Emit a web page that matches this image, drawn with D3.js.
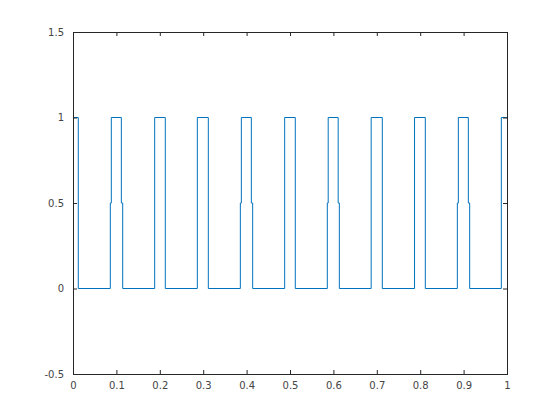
<!DOCTYPE html>
<html>
<head>
<meta charset="utf-8">
<script src="https://cdn.jsdelivr.net/npm/d3@7"></script>
<style>
  body { margin: 0; background: #fff; }
  svg { display: block; }
</style>
</head>
<body>
<div id="chart"></div>
<script>
// step breakpoints (t) and the value held from each one onward (stairs style)
const stepT = [0, 0.0122, 0.086, 0.0883, 0.1114, 0.1145, 0.1882, 0.2127, 0.2865, 0.3118,
  0.3856, 0.3879, 0.4109, 0.414, 0.4877, 0.5122, 0.586, 0.588, 0.611, 0.6137,
  0.687, 0.7127, 0.787, 0.8118, 0.8856, 0.8879, 0.9109, 0.914, 0.9869, 1];
const stepY = [1, 0, 0.5, 1, 0.5, 0, 1, 0, 1, 0,
  0.5, 1, 0.5, 0, 1, 0, 0.5, 1, 0.5, 0,
  1, 0, 1, 0, 0.5, 1, 0.5, 0, 1, 1];

const xTicks = [0, 0.1, 0.2, 0.3, 0.4, 0.5, 0.6, 0.7, 0.8, 0.9, 1];
const yTicks = [-0.5, 0, 0.5, 1, 1.5];

const width = 560, height = 420;
const margin = { top: 32, right: 53, bottom: 46, left: 73 };
const innerW = width - margin.left - margin.right;
const innerH = height - margin.top - margin.bottom;
const axisColor = '#262626';
const textColor = '#444';
const tickLen = 4;

const svg = d3.select('#chart').append('svg')
  .attr('width', width)
  .attr('height', height);

const g = svg.append('g').attr('transform', `translate(${margin.left},${margin.top})`);

const x = d3.scaleLinear().domain([0, 1]).range([0, innerW]);
const y = d3.scaleLinear().domain([-0.5, 1.5]).range([innerH, 0]);

const data = stepT.map((t, i) => ({ t, v: stepY[i] }));

const line = d3.line()
  .x((d) => x(d.t))
  .y((d) => y(d.v))
  .curve(d3.curveStepAfter);

g.append('path')
  .datum(data)
  .attr('fill', 'none')
  .attr('stroke', '#0072BD')
  .attr('stroke-width', 1)
  .attr('d', line);

const fmt = (d) => String(d);

const styleAxis = (sel, hideText) => {
  sel.select('.domain').remove();
  sel.selectAll('.tick line').attr('stroke', axisColor);
  if (hideText) sel.selectAll('.tick text').remove();
};

// bottom / top
g.append('g')
  .attr('transform', `translate(0,${innerH})`)
  .call(d3.axisBottom(x).tickValues(xTicks).tickFormat(fmt).tickSizeInner(-tickLen).tickSizeOuter(0).tickPadding(8))
  .call((s) => styleAxis(s, false));
g.append('g')
  .call(d3.axisTop(x).tickValues(xTicks).tickSizeInner(-tickLen).tickSizeOuter(0))
  .call((s) => styleAxis(s, true));

// left / right
g.append('g')
  .call(d3.axisLeft(y).tickValues(yTicks).tickFormat(fmt).tickSizeInner(-tickLen).tickSizeOuter(0).tickPadding(9))
  .call((s) => styleAxis(s, false));
g.append('g')
  .attr('transform', `translate(${innerW},0)`)
  .call(d3.axisRight(y).tickValues(yTicks).tickSizeInner(-tickLen).tickSizeOuter(0))
  .call((s) => styleAxis(s, true));

// box
g.append('rect')
  .attr('x', 0.5).attr('y', 0.5)
  .attr('width', innerW).attr('height', innerH)
  .attr('fill', 'none')
  .attr('stroke', axisColor)
  .attr('stroke-width', 1);

g.selectAll('.tick text')
  .attr('fill', textColor)
  .attr('font-size', 10)
  .attr('font-family', '"DejaVu Sans", sans-serif');
</script>
</body>
</html>
